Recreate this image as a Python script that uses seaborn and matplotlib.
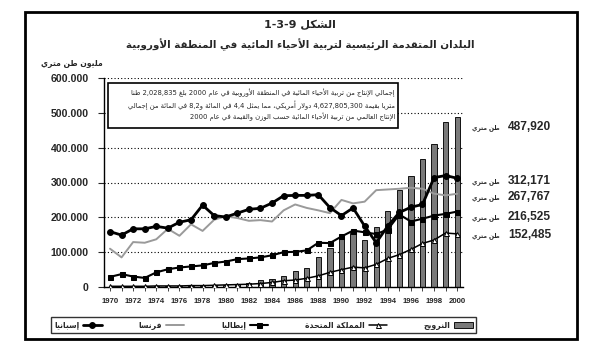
import re
import matplotlib
matplotlib.use("Agg")
import matplotlib.pyplot as plt
from matplotlib.patches import Rectangle
import seaborn as sns

# ---------------- data ----------------
years = list(range(1970, 2001))
norway = [1, 1, 2, 2, 2, 2, 3, 4, 4, 5,
          7, 9, 12, 20, 23, 32, 46, 55, 85, 112,
          150, 155, 135, 172, 218, 278, 320, 368, 410, 475, 487.92]
spain = [159, 149, 167, 167, 174, 169, 186, 193, 235, 205,
         201, 212, 223, 226, 241, 262, 263, 263, 265, 228,
         205, 227, 175, 127, 175, 214, 229, 237, 314, 320, 312.171]
france = [110, 85, 129, 127, 137, 167, 147, 180, 161, 193,
          203, 198, 190, 192, 188, 220, 237, 227, 220, 212,
          250, 240, 245, 278, 280, 282, 285, 282, 268, 263, 267.767]
italy = [29, 37, 30, 26, 42, 51, 56, 59, 62, 69,
         73, 80, 82, 85, 91, 100, 101, 105, 127, 126,
         145, 162, 157, 152, 165, 208, 188, 196, 205, 210, 216.525]
uk = [2, 2, 2, 2, 3, 3, 3, 4, 4, 5,
      6, 7, 8, 10, 13, 18, 20, 25, 32, 42,
      50, 57, 55, 65, 82, 93, 108, 125, 135, 155, 152.485]

y_ticks = [0, 100, 200, 300, 400, 500, 600]
y_tick_labels = ["0", "100.000", "200.000", "300.000", "400.000", "500.000", "600.000"]
x_label_years = list(range(1970, 2001, 2))

end_labels = ["487,920", "312,171", "267,767", "216,525", "152,485"]
unit_label = "طن متري"
title_1 = "الشكل 1-3-9"
title_2 = "البلدان المتقدمة الرئيسية لتربية الأحياء المائية في المنطقة الأوروبية"
y_axis_title = "مليون طن متري"
name_spain = "إسبانيا"
name_france = "فرنسا"
name_italy = "إيطاليا"
name_uk = "المملكة المتحدة"
name_norway = "النرويج"
note_lines = [
    "إجمالي الإنتاج من تربية الأحياء المائية في المنطقة الأوروبية في عام 2000 بلغ 2,028,835 طنا",
    "متريا بقيمة 4,627,805,300 دولار أمريكي، مما يمثل 4,4 في المائة و8,2 في المائة من إجمالي",
    "الإنتاج العالمي من تربية الأحياء المائية حسب الوزن والقيمة في عام 2000",
]

# ---------------- Arabic shaping (presentation forms + RTL order) ----------------
def _four(c):
    return (chr(c), chr(c + 1), chr(c + 2), chr(c + 3))

def _two(c):
    return (chr(c), chr(c + 1), None, None)

FORMS = {
    'ء': (chr(0xFE80), None, None, None),
    'آ': _two(0xFE81), 'أ': _two(0xFE83), 'ؤ': _two(0xFE85), 'إ': _two(0xFE87),
    'ئ': _four(0xFE89), 'ا': _two(0xFE8D), 'ب': _four(0xFE8F), 'ة': _two(0xFE93),
    'ت': _four(0xFE95), 'ث': _four(0xFE99), 'ج': _four(0xFE9D), 'ح': _four(0xFEA1),
    'خ': _four(0xFEA5), 'د': _two(0xFEA9), 'ذ': _two(0xFEAB), 'ر': _two(0xFEAD),
    'ز': _two(0xFEAF), 'س': _four(0xFEB1), 'ش': _four(0xFEB5), 'ص': _four(0xFEB9),
    'ض': _four(0xFEBD), 'ط': _four(0xFEC1), 'ظ': _four(0xFEC5), 'ع': _four(0xFEC9),
    'غ': _four(0xFECD), 'ف': _four(0xFED1), 'ق': _four(0xFED5), 'ك': _four(0xFED9),
    'ل': _four(0xFEDD), 'م': _four(0xFEE1), 'ن': _four(0xFEE5), 'ه': _four(0xFEE9),
    'و': _two(0xFEED), 'ى': _two(0xFEEF), 'ي': _four(0xFEF1),
}
LAM_ALEF = {'آ': (0xFEF5, 0xFEF6), 'أ': (0xFEF7, 0xFEF8),
            'إ': (0xFEF9, 0xFEFA), 'ا': (0xFEFB, 0xFEFC)}


def _shape(s):
    out, i, n, prev_joins = [], 0, len(s), False
    while i < n:
        c = s[i]
        if c == 'ل' and i + 1 < n and s[i + 1] in LAM_ALEF:
            iso, fin = LAM_ALEF[s[i + 1]]
            out.append(chr(fin if prev_joins else iso))
            prev_joins = False
            i += 2
            continue
        if c in FORMS:
            f = FORMS[c]
            if f[1] is None:
                out.append(f[0])
                prev_joins = False
                i += 1
                continue
            dual = f[2] is not None
            nxt = s[i + 1] if i + 1 < n else ''
            next_joins = dual and nxt in FORMS and FORMS[nxt][1] is not None
            if prev_joins and next_joins:
                g = f[3]
            elif prev_joins:
                g = f[1]
            elif next_joins:
                g = f[2]
            else:
                g = f[0]
            out.append(g)
            prev_joins = dual
        else:
            out.append(c)
            prev_joins = False
        i += 1
    return ''.join(out)


def ar(s):
    tokens = re.findall(r'[0-9]+(?:[,.\-][0-9]+)*|.', _shape(s))
    return ''.join(reversed(tokens))


# ---------------- figure ----------------
W, H = 598, 347
sns.set_style("white")
plt.rcParams['font.family'] = ['DejaVu Sans']
NUM = ['Liberation Sans', 'DejaVu Sans']
AR = ['DejaVu Sans']

fig = plt.figure(figsize=(W / 100, H / 100), dpi=100)
fig.patch.set_facecolor('white')


def fx(px):
    return px / W


def fy(py):
    return 1 - py / H


ax_l, ax_r, ax_t, ax_b = 104.2, 463.0, 78.0, 287.0
ax = fig.add_axes([fx(ax_l), fy(ax_b), fx(ax_r - ax_l), (ax_b - ax_t) / H])
ax.set_facecolor('white')

sns.barplot(x=years, y=norway, native_scale=True, width=0.45, color='#7a7a7a',
            saturation=1, edgecolor='#111111', linewidth=0.7, label=ar(name_norway),
            ax=ax, zorder=2)
sns.lineplot(x=years, y=uk, color='black', lw=1.1, marker='^', ms=3.6,
             markerfacecolor='white', markeredgecolor='black', markeredgewidth=0.7,
             label=ar(name_uk), ax=ax, zorder=3)
sns.lineplot(x=years, y=italy, color='black', lw=1.5, marker='s', ms=3.6,
             markerfacecolor='black', markeredgecolor='black',
             label=ar(name_italy), ax=ax, zorder=4)
sns.lineplot(x=years, y=france, color='#9a9a9a', lw=1.4,
             label=ar(name_france), ax=ax, zorder=4)
sns.lineplot(x=years, y=spain, color='black', lw=2.0, marker='o', ms=4.2,
             markerfacecolor='black', markeredgecolor='black',
             label=ar(name_spain), ax=ax, zorder=5)

handles, labels = ax.get_legend_handles_labels()
hmap = dict(zip(labels, handles))
if ax.get_legend() is not None:
    ax.get_legend().remove()

ax.set_xlim(1969.5, 2000.5)
ax.set_ylim(0, 600)
ax.set_yticks(y_ticks)
ax.set_yticklabels(y_tick_labels, fontfamily=NUM, fontweight='bold', fontsize=7.6)
ax.set_xticks(years)
ax.set_xticklabels([str(y) if y in x_label_years else '' for y in years],
                   fontfamily=NUM, fontweight='bold', fontsize=5.6)
ax.tick_params(axis='y', direction='out', length=4, width=0.8, pad=7, left=True)
ax.tick_params(axis='x', direction='out', length=3, width=0.6, pad=5, bottom=True)
ax.set_xlabel('')
ax.set_ylabel('')
for s in ['top', 'right']:
    ax.spines[s].set_visible(False)
for s in ['left', 'bottom']:
    ax.spines[s].set_color('black')
    ax.spines[s].set_linewidth(1.0)
ax.yaxis.grid(True, linestyle=(0, (1, 2)), color='black', lw=0.8)
ax.xaxis.grid(False)
ax.set_axisbelow(True)

# outer frame
fig.add_artist(Rectangle((fx(25), fy(339)), fx(577 - 25), (339 - 12) / H,
                         transform=fig.transFigure, fill=False, edgecolor='black',
                         lw=2.0, zorder=10))

# titles
fig.text(fx(300), fy(25), ar(title_1), ha='center', va='center', fontsize=8,
         fontweight='bold', family=AR)
fig.text(fx(300), fy(45), ar(title_2), ha='center', va='center', fontsize=7.5,
         fontweight='bold', family=AR)
fig.text(fx(72), fy(63), ar(y_axis_title), ha='center', va='center', fontsize=5.5,
         fontweight='bold', family=AR)

# note box
fig.add_artist(Rectangle((fx(108), fy(128)), fx(398 - 108), (128 - 83) / H,
                         transform=fig.transFigure, facecolor='white',
                         edgecolor='black', lw=1.2, zorder=6))
for line, py in zip(note_lines, [93, 105, 117]):
    fig.text(fx(395), fy(py), ar(line), ha='right', va='center', fontsize=4.9,
             family=AR, zorder=7)

# end value labels
for lab, py in zip(end_labels, [127, 181, 197, 217, 235]):
    fig.text(fx(551), fy(py), lab, ha='right', va='center', fontsize=8.6,
             fontweight='bold', family=NUM)
    fig.text(fx(500), fy(py + 1), ar(unit_label), ha='right', va='center',
             fontsize=4.2, fontweight='bold', family=AR)

# legend (RTL order, marker to the right of its label)
order = [name_spain, name_france, name_italy, name_uk, name_norway]
leg = fig.legend([hmap[ar(n)] for n in order], [ar(n) for n in order],
                 ncol=5, markerfirst=False, mode='expand', loc='center',
                 bbox_to_anchor=(fx(47), fy(334), fx(480 - 47), 18 / H),
                 bbox_transform=fig.transFigure, frameon=True, fancybox=False,
                 edgecolor='black', fontsize=5.5, handlelength=2.4,
                 borderpad=0.45, handletextpad=0.5, columnspacing=1.0)
leg.get_frame().set_linewidth(1.0)
for t in leg.get_texts():
    t.set_fontweight('bold')

fig.savefig('out.png', dpi=100, facecolor='white')
